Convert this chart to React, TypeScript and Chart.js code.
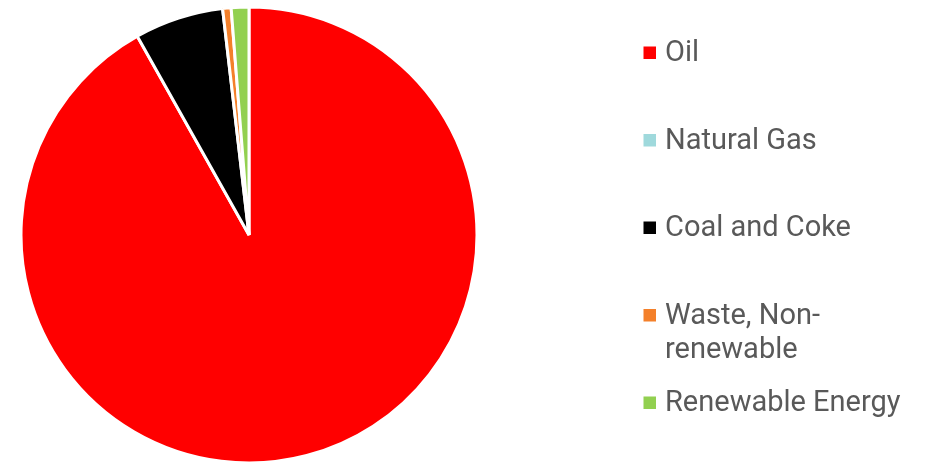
import React, { useEffect, useRef } from "react";
import { Chart, registerables } from "chart.js";

Chart.register(...registerables);

const categories: string[][] = [
  ["Oil"],
  ["Natural Gas"],
  ["Coal and Coke"],
  ["Waste, Non-", "renewable"],
  ["Renewable Energy"],
];
const shares: number[] = [91.85, 0, 6.3, 0.6, 1.25];
const colors: string[] = ["#FF0000", "#9FD9DC", "#000000", "#F4802A", "#92D050"];

const legendPlugin = {
  id: "customLegend",
  afterDraw(chart: any) {
    const ctx = chart.ctx as CanvasRenderingContext2D;
    const labels = chart.data.labels as string[][];
    const bg = chart.data.datasets[0].backgroundColor as string[];
    ctx.save();
    ctx.font = "29px Roboto";
    ctx.textBaseline = "alphabetic";
    ctx.textAlign = "left";
    labels.forEach((lines, i) => {
      const y = 61 + i * 87.5;
      ctx.fillStyle = bg[i];
      ctx.fillRect(643.5, y - 14.5, 12.5, 12.5);
      ctx.fillStyle = "#595959";
      lines.forEach((line, j) => {
        ctx.fillText(line, 665, y + j * 34);
      });
    });
    ctx.restore();
  },
};

export default function App() {
  const ref = useRef<HTMLCanvasElement>(null);
  useEffect(() => {
    document.body.style.margin = "0";
    const chart = new Chart(ref.current!, {
      type: "pie",
      data: {
        labels: categories,
        datasets: [
          {
            data: shares,
            backgroundColor: colors,
            borderColor: "#FFFFFF",
            borderWidth: 3,
            radius: 228,
          } as any,
        ],
      },
      options: {
        animation: false,
        responsive: false,
        maintainAspectRatio: false,
        layout: { padding: { left: 21, right: 450, top: 7, bottom: 2 } },
        plugins: {
          legend: { display: false },
          tooltip: { enabled: false },
        },
      },
      plugins: [legendPlugin],
    });
    return () => chart.destroy();
  }, []);
  return (
    <div style={{ width: 927, height: 465 }}>
      <canvas ref={ref} width={927} height={465} style={{ display: "block" }} />
    </div>
  );
}
